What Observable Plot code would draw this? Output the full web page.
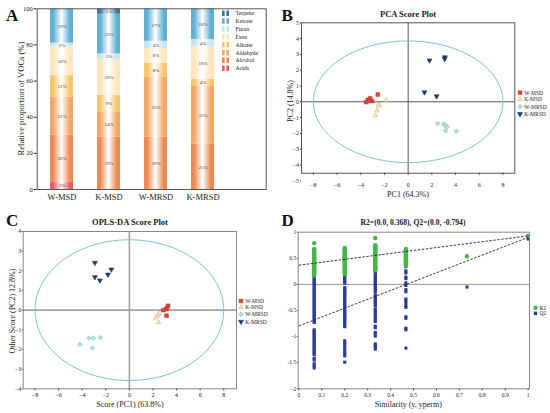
<!DOCTYPE html>
<html><head><meta charset="utf-8">
<script src="https://cdn.jsdelivr.net/npm/d3@7"></script>
<script src="https://cdn.jsdelivr.net/npm/@observablehq/plot@0.6"></script>
<style>
html,body{margin:0;padding:0;background:#fff;}
#root{position:relative;width:550px;height:413px;overflow:hidden;font-family:"Liberation Serif",serif;}
.panel{position:absolute;}
#overlay{position:absolute;left:0;top:0;pointer-events:none;}
</style></head><body><div id="root"></div>
<script>
// ---------- Panel A data ----------
const groupsA = ["W-MSD","K-MSD","W-MRSD","K-MRSD"];
const compoundsA = ["Acids","Alcohol","Aldehyde","Alkane","Ester","Furan","Ketone","Terpene"];
const colorsA = ["#e65f63","#ec8a52","#f3a766","#f9c66c","#fde6bd","#c6e6ee","#62afd6","#3d76a6"];
const shareWMSD  = [4,26,21,12,16,2,19,0];
const shareKMSD  = [0,29,14,9,20,3,22,3];
const shareWMRSD = [0,29,33,8,8,4,18,0];
const shareKMRSD = [0,25,32,4,18,4,17,0];
const labelWMSD  = ["3%","26%","21%","12%","16%","2%","19%",""];
const labelKMSD  = ["","29%","14%","9%","20%","3%","23%","3%"];
const labelWMRSD = ["","29%","33%","8%","8%","4%","17%",""];
const labelKMRSD = ["","25%","32%","4%","18%","4%","18%",""];
const yTicksA = [0,20,40,60,80,100];

// ---------- Panel B data (PCA) ----------
const pcaWMSD  = [[-3.55,-0.02],[-3.4,0.12],[-3.2,0.22],[-3.05,0.05],[-3.3,0.05],[-2.56,0.46]];
const pcaKMSD  = [[-1.86,0.1],[-2.45,-0.18],[-2.52,-0.25],[-2.62,-0.55],[-2.76,-0.87]];
const pcaWMRSD = [[2.48,-1.37],[3.0,-1.4],[3.12,-1.5],[3.3,-1.58],[3.15,-1.83],[4.05,-1.87]];
const pcaKMRSD = [[1.8,2.62],[3.1,2.82],[3.08,2.72],[1.38,0.6],[2.4,0.35]];
const ellipseB = {rx: 8, ry: 3.85};

// ---------- Panel C data (OPLS-DA) ----------
const oplsWMSD  = [[3.28,0.22],[3.2,0.12],[3.12,0.05],[2.88,0.0],[3.15,-0.28]];
const oplsKMSD  = [[2.52,-0.18],[2.38,-0.28],[2.22,-0.38],[2.47,-0.62]];
const oplsWMRSD = [[-4.19,-1.74],[-3.43,-1.42],[-3.06,-1.42],[-2.44,-1.4],[-3.14,-1.93]];
const oplsKMRSD = [[-2.92,2.41],[-2.92,1.68],[-2.5,1.51],[-1.82,1.81],[-1.53,2.07]];
const ellipseC = {rx: 8, ry: 3.58};

// ---------- Panel D data (permutation test) ----------
const permX = [0.0667, 0.2, 0.3333, 0.4667, 0.7333, 1];
const r2Perm = [
  [0.79,0.68,0.665,0.65,0.635,0.62,0.6,0.585,0.57,0.55,0.53,0.515,0.5,0.48,0.46,0.445,0.43,0.41,0.39,0.37,0.35,0.33,0.31,0.29,0.27,0.25,0.23,0.21,0.19,0.17],
  [0.7,0.68,0.66,0.64,0.62,0.6,0.58,0.56,0.54,0.52,0.5,0.48,0.46,0.44,0.42,0.4,0.38,0.36,0.34,0.32,0.3,0.28,0.26,0.24,0.22,0.2],
  [0.89,0.75,0.73,0.71,0.69,0.67,0.65,0.63,0.61,0.59,0.57,0.55,0.53,0.51,0.49,0.47,0.45,0.43,0.41,0.39,0.37,0.35,0.33,0.31,0.29,0.27],
  [0.68,0.66,0.64,0.62,0.6,0.58,0.56,0.54,0.52,0.5,0.48,0.46,0.44,0.42,0.4,0.38,0.36],
  [0.54],
  [0.93]
];
const q2Perm = [
  [0.17,0.14,0.11,0.08,0.05,0.02,-0.01,-0.04,-0.07,-0.1,-0.13,-0.16,-0.19,-0.22,-0.25,-0.28,-0.31,-0.34,-0.37,-0.4,-0.43,-0.46,-0.49,-0.52,-0.55,-0.58,-0.61,-0.64,-0.67,-0.7,-0.73,-0.87,-0.9,-0.93,-0.96,-0.99,-1.02,-1.05,-1.08,-1.11,-1.14,-1.17,-1.2,-1.23,-1.26,-1.29,-1.32,-1.35,-1.42,-1.45,-1.52,-1.56,-1.6],
  [0.38,0.35,0.32,0.29,0.26,0.23,0.2,0.17,0.14,0.11,0.08,0.05,0.02,-0.06,-0.09,-0.12,-0.15,-0.18,-0.21,-0.24,-0.27,-0.3,-0.33,-0.36,-0.39,-0.42,-0.45,-0.48,-0.51,-0.54,-0.57,-0.6,-0.63,-0.66,-0.69,-0.72,-0.75,-0.78,-0.81,-1.08,-1.12,-1.16,-1.2,-1.25,-1.29,-1.33,-1.37,-1.49],
  [0.4,0.37,0.34,0.31,0.28,0.25,0.22,0.19,0.16,0.13,0.1,0.07,0.04,0.01,-0.02,-0.05,-0.08,-0.11,-0.14,-0.2,-0.23,-0.26,-0.29,-0.32,-0.35,-0.38,-0.41,-0.47,-0.5,-0.53,-0.56,-0.6,-0.64,-0.68,-0.71,-0.8,-0.83,-0.92,-0.95,-0.99,-1.14,-1.17,-1.2,-1.24],
  [0.37,0.34,0.26,0.22,0.14,0.11,0.03,-0.02,-0.1,-0.14,-0.28,-0.32,-0.36,-0.41,-0.44,-0.62,-0.65,-0.84,-0.87,-1.22],
  [-0.05],
  [0.87]
];
const r2Line = [{x1: 0, y1: 0.368, x2: 1, y2: 0.93}];
const q2Line = [{x1: 0, y1: -0.794, x2: 1, y2: 0.9}];
const xTicksD = [0,0.1,0.2,0.3,0.4,0.5,0.6,0.7,0.8,0.9,1];
const yTicksD = [-2,-1.5,-1,-0.5,0,0.5,1];

// ---------- styles ----------
const groupNames = ["W-MSD","K-MSD","W-MRSD","K-MRSD"];
const triangleDown = {
  draw(ctx, size) {
    const s3 = Math.sqrt(3);
    const y = -Math.sqrt(size / (s3 * 3));
    ctx.moveTo(0, -y * 2);
    ctx.lineTo(-s3 * y, y);
    ctx.lineTo(s3 * y, y);
    ctx.closePath();
  }
};
const groupStyle = [
  {symbol: d3.symbolSquare, fill: "#d9453b", stroke: "#c23a30", r: 2.1},
  {symbol: d3.symbolTriangle, fill: "#f6e4c6", stroke: "#d6b587", r: 1.75},
  {symbol: d3.symbolDiamond2, fill: "#b9dedf", stroke: "#86c2c4", r: 2.1},
  {symbol: triangleDown, fill: "#1f3b60", stroke: "#1f3b60", r: 1.85}
];

const root = document.getElementById("root");
function place(el, left, top) {
  const d = document.createElement("div");
  d.className = "panel";
  d.style.left = left + "px";
  d.style.top = top + "px";
  d.appendChild(el);
  root.appendChild(d);
}
const baseStyle = (fs) => ({fontFamily: "Liberation Serif", fontSize: fs, background: "transparent", overflow: "visible", color: "#222"});

// ---------- Panel A ----------
const sharesA = [shareWMSD, shareKMSD, shareWMRSD, shareKMRSD];
const labelsA = [labelWMSD, labelKMSD, labelWMRSD, labelKMRSD];
const rowsA = [];
groupsA.forEach((g, gi) => {
  let cum = 0;
  compoundsA.forEach((c, ci) => {
    const v = sharesA[gi][ci];
    if (v > 0) rowsA.push({group: g, compound: c, y1: cum, y2: cum + v, label: labelsA[gi][ci]});
    cum += v;
  });
});
const plotA = Plot.plot({
  width: 275, height: 205,
  marginLeft: 36.7, marginRight: 9.3, marginTop: 8.3, marginBottom: 16,
  style: baseStyle("6.5px"),
  x: {domain: groupsA, range: [25.3, 239.3], padding: 0.505, axis: null},
  y: {domain: [0, 100], ticks: yTicksA, tickSize: 3, tickPadding: 1.5, label: null},
  color: {domain: compoundsA, range: compoundsA.map((c, i) => `url(#gradA${i})`)},
  marks: [
    Plot.barY(rowsA, {x: "group", y1: "y1", y2: "y2", fill: "compound"}),
    Plot.text(rowsA, {x: "group", y: d => (d.y1 + d.y2) / 2, text: "label", fontSize: 5, fill: "#444"}),
    Plot.text(groupsA, {x: d => d, frameAnchor: "bottom", dy: 10, text: d => d, fontSize: 8.5, fill: "#222"}),
    Plot.frame({stroke: "#555"})
  ]
});
function addGradients(svg, prefix) {
  const defs = d3.select(svg).insert("defs", ":first-child");
  colorsA.forEach((col, i) => {
    const g = defs.append("linearGradient").attr("id", prefix + i).attr("x1", "0%").attr("x2", "100%").attr("y1", "0%").attr("y2", "0%");
    g.append("stop").attr("offset", "0%").attr("stop-color", col);
    g.append("stop").attr("offset", "14%").attr("stop-color", col);
    g.append("stop").attr("offset", "50%").attr("stop-color", "#ffffff");
    g.append("stop").attr("offset", "86%").attr("stop-color", col);
    g.append("stop").attr("offset", "100%").attr("stop-color", col);
  });
}
addGradients(plotA, "gradA");
place(plotA, 0, 0);

// ---------- scatter helper ----------
function ellipsePts(e) {
  return d3.range(0, 361, 3).map(a => ({x: e.rx * Math.cos(a * Math.PI / 180), y: e.ry * Math.sin(a * Math.PI / 180)}));
}
function groupMarks(sets) {
  return sets.map((pts, i) => Plot.dot(pts, {
    x: d => d[0], y: d => d[1], symbol: groupStyle[i].symbol, r: groupStyle[i].r,
    fill: groupStyle[i].fill, stroke: groupStyle[i].stroke, strokeWidth: 0.6
  }));
}

// ---------- Panel B ----------
const plotB = Plot.plot({
  width: 275, height: 205,
  marginLeft: 26, marginRight: 35.7, marginTop: 22.3, marginBottom: 32.3,
  style: baseStyle("6px"),
  x: {domain: [-9, 9], ticks: [-8,-6,-4,-2,0,2,4,6,8], tickSize: 2, tickPadding: 8, label: null},
  y: {domain: [-4.52, 5], ticks: [-5,-4,-3,-2,-1,0,1,2,3,4,5], tickSize: 1, tickPadding: 1.5, label: null},
  marks: [
    Plot.ruleX([0], {stroke: "#444", strokeWidth: 0.9}),
    Plot.ruleY([0], {stroke: "#444", strokeWidth: 0.9}),
    Plot.line(ellipsePts(ellipseB), {x: "x", y: "y", stroke: "#7cc4c7", strokeWidth: 1}),
    ...groupMarks([pcaWMSD, pcaKMSD, pcaWMRSD, pcaKMRSD]),
    Plot.frame({stroke: "#555"})
  ]
});
place(plotB, 275, 0);

// ---------- Panel C ----------
const plotC = Plot.plot({
  width: 275, height: 208,
  marginLeft: 22.7, marginRight: 39, marginTop: 26, marginBottom: 24.7,
  style: baseStyle("6px"),
  x: {domain: [-9, 9.08], ticks: [-8,-6,-4,-2,0,2,4,6,8], tickSize: 2, tickPadding: 2, label: null},
  y: {domain: [-4, 4], ticks: [-4,-3,-2,-1,0,1,2,3,4], tickSize: 1, tickPadding: 1, label: null},
  marks: [
    Plot.ruleX([0], {stroke: "#a3a3a3", strokeWidth: 1.6}),
    Plot.ruleY([0], {stroke: "#a3a3a3", strokeWidth: 1.6}),
    Plot.line(ellipsePts(ellipseC), {x: "x", y: "y", stroke: "#7cc4c7", strokeWidth: 1}),
    ...groupMarks([oplsWMSD, oplsKMSD, oplsWMRSD, oplsKMRSD]),
    Plot.frame({stroke: "#888"})
  ]
});
place(plotC, 0, 205);

// ---------- Panel D ----------
const r2Rows = [], q2Rows = [];
permX.forEach((x, i) => {
  r2Perm[i].forEach(v => r2Rows.push({x, y: v}));
  q2Perm[i].forEach(v => q2Rows.push({x, y: v}));
});
const plotD = Plot.plot({
  width: 275, height: 208,
  marginLeft: 22.7, marginRight: 21, marginTop: 26.7, marginBottom: 24.7,
  style: baseStyle("5.5px"),
  x: {domain: [-0.003, 1.006], ticks: xTicksD, tickFormat: d => String(d), tickSize: 2, tickPadding: 2, label: null},
  y: {domain: [-2, 1], ticks: yTicksD, tickFormat: d => String(d), tickSize: 1, tickPadding: 1, label: null},
  marks: [
    Plot.ruleY([0], {stroke: "#999", strokeWidth: 1}),
    Plot.dot(q2Rows, {x: "x", y: "y", symbol: "square", r: 1.75, fill: "#2b3c9c"}),
    Plot.dot(r2Rows, {x: "x", y: "y", symbol: "circle", r: 2.2, fill: "#45b64a"}),
    Plot.link(r2Line, {x1: "x1", y1: "y1", x2: "x2", y2: "y2", stroke: "#222", strokeWidth: 0.9, strokeDasharray: "2.5,1.5"}),
    Plot.link(q2Line, {x1: "x1", y1: "y1", x2: "x2", y2: "y2", stroke: "#222", strokeWidth: 0.9, strokeDasharray: "2.5,1.5"}),
    Plot.frame({stroke: "#888"})
  ]
});
place(plotD, 275, 205);

// ---------- overlay text & legends ----------
const ov = d3.select(root).append("svg").attr("id", "overlay").attr("width", 550).attr("height", 413)
  .style("font-family", "'Liberation Serif', serif");
function txt(x, y, s, o = {}) {
  const t = ov.append("text").attr("x", x).attr("y", y).text(s)
    .attr("font-size", o.size || 8).attr("fill", o.fill || "#222")
    .attr("text-anchor", o.anchor || "start");
  if (o.weight) t.attr("font-weight", o.weight);
  if (o.baseline) t.attr("dominant-baseline", o.baseline);
  if (o.rotate) t.attr("transform", `rotate(${o.rotate},${x},${y})`);
  return t;
}
// panel letters
txt(6, 20.5, "A", {size: 17, weight: "bold", fill: "#111"});
txt(281.5, 21, "B", {size: 17, weight: "bold", fill: "#111"});
txt(6, 225.5, "C", {size: 17, weight: "bold", fill: "#111"});
txt(281.5, 225.5, "D", {size: 17, weight: "bold", fill: "#111"});
// titles
txt(408, 16.7, "PCA Score Plot", {size: 8.5, weight: "bold", anchor: "middle"});
txt(130, 225.3, "OPLS-DA Score Plot", {size: 8.5, weight: "bold", anchor: "middle"});
txt(413, 224.5, "R2=(0.0, 0.368), Q2=(0.0, -0.794)", {size: 7.6, weight: "bold", anchor: "middle"});
// axis labels
txt(20.7, 98.6, "Relative proportion of VOCs (%)", {size: 8.5, anchor: "middle", baseline: "central", rotate: -90});
txt(408, 197, "PC1 (64.3%)", {size: 8, anchor: "middle"});
txt(290.5, 101, "PC2 (14.8%)", {size: 8, anchor: "middle", baseline: "central", rotate: -90});
txt(130, 407, "Score (PC1) (63.8%)", {size: 8, anchor: "middle"});
txt(12.3, 311, "Other Score (PC2) 12.8%)", {size: 8, anchor: "middle", baseline: "central", rotate: -90});
txt(408.3, 407, "Similarity (y, yperm)", {size: 8, anchor: "middle"});

// legend A
const defsOv = ov.append("defs");
colorsA.forEach((col, i) => {
  const g = defsOv.append("linearGradient").attr("id", "legA" + i);
  g.append("stop").attr("offset", "0%").attr("stop-color", col);
  g.append("stop").attr("offset", "30%").attr("stop-color", col);
  g.append("stop").attr("offset", "50%").attr("stop-color", "#fff").attr("stop-opacity", 0.6);
  g.append("stop").attr("offset", "70%").attr("stop-color", col);
  g.append("stop").attr("offset", "100%").attr("stop-color", col);
});
const legOrderA = [7,6,5,4,3,2,1,0];
const legYA = [13.3, 21, 29, 36.7, 44.7, 52.7, 60.3, 68.3];
legOrderA.forEach((ci, k) => {
  ov.append("rect").attr("x", 222).attr("y", legYA[k] - 2.8).attr("width", 7).attr("height", 5.6).attr("fill", `url(#legA${ci})`);
  txt(235.5, legYA[k], compoundsA[ci], {size: 5.8, baseline: "central"});
});

// legends B & C
function scatterLegend(mx, tx, ys) {
  groupNames.forEach((name, i) => {
    const st = groupStyle[i];
    const size = Math.PI * st.r * st.r;
    ov.append("path").attr("d", d3.symbol(st.symbol, size)()).attr("transform", `translate(${mx},${ys[i]})`)
      .attr("fill", st.fill).attr("stroke", st.stroke).attr("stroke-width", 0.6);
    txt(tx, ys[i], name, {size: 5.5, baseline: "central"});
  });
}
scatterLegend(520, 524.3, [92.7, 99.2, 106.7, 114]);
scatterLegend(241, 245.3, [301, 307.3, 314.3, 321.7]);

// legend D
ov.append("circle").attr("cx", 535.5).attr("cy", 307.7).attr("r", 2.2).attr("fill", "#45b64a");
txt(539.5, 307.7, "R2", {size: 5.5, baseline: "central"});
ov.append("rect").attr("x", 533.8).attr("y", 311.6).attr("width", 3.4).attr("height", 3.4).attr("fill", "#2b3c9c");
txt(539.5, 313.3, "Q2", {size: 5.5, baseline: "central"});
</script></body></html>
